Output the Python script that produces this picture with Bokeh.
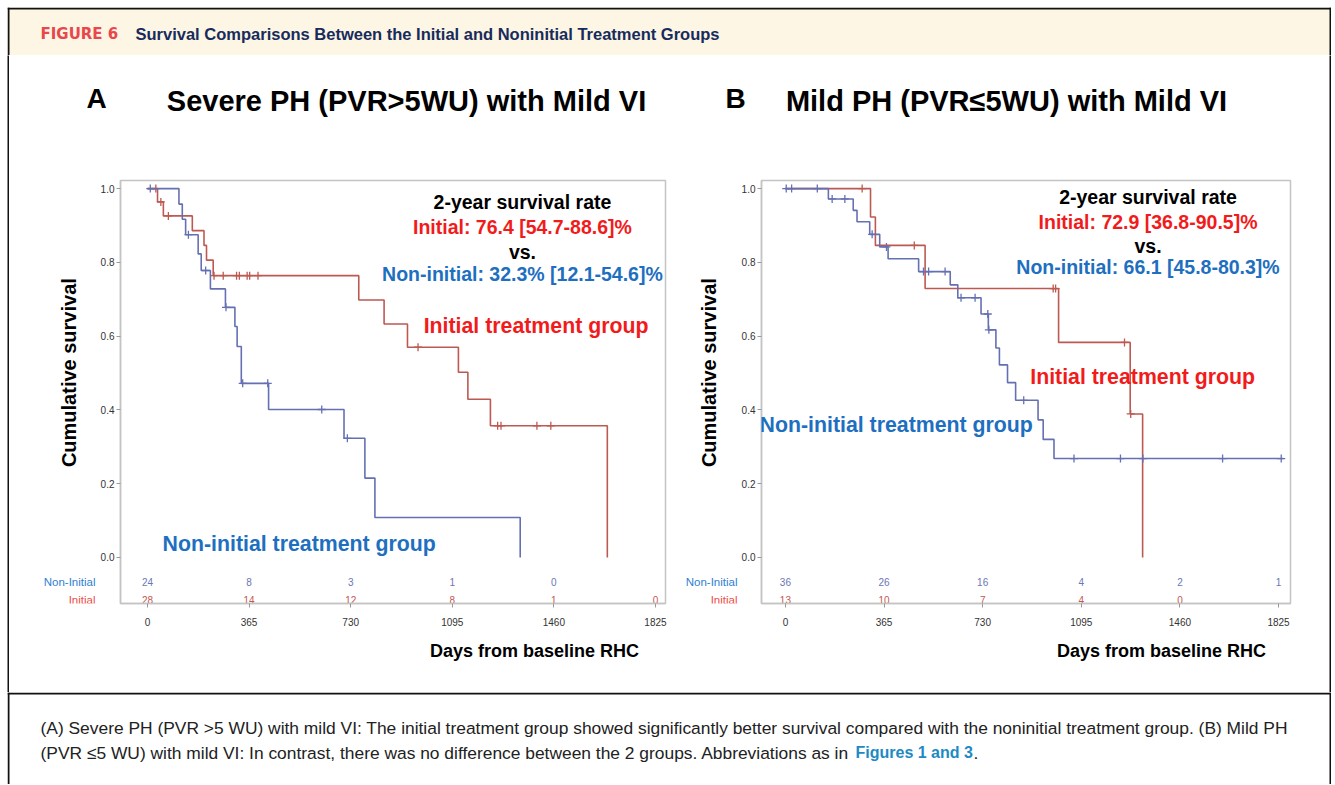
import math
from bokeh.plotting import figure
from bokeh.models import Range1d, FixedTicker, PrintfTickFormatter, Label, Span, ColumnDataSource, Spacer
from bokeh.layouts import column, row
from bokeh.embed import file_html
from bokeh.resources import INLINE
from bokeh.core.properties import value

FONT = "Liberation Sans"

# ---------------- data ----------------
risk_days = [0, 365, 730, 1095, 1460, 1825]
x_ticks = [0, 365, 730, 1095, 1460, 1825]
y_ticks = [0.0, 0.2, 0.4, 0.6, 0.8, 1.0]

# Panel A : Severe PH with mild VI
a_non_t = [0, 113, 125, 137, 182, 193, 226, 280, 314, 322, 337, 435, 706, 781, 817, 1339]
a_non_s = [1.0, 0.958, 0.917, 0.875, 0.823, 0.778, 0.728, 0.678, 0.626, 0.572, 0.472, 0.401, 0.323, 0.215, 0.108, 0.0]
a_non_ct = [10, 147, 209, 282, 342, 432, 626, 718]
a_non_cs = [1.0, 0.875, 0.778, 0.678, 0.472, 0.472, 0.401, 0.323]

a_ini_t = [0, 36, 57, 161, 203, 212, 236, 759, 850, 934, 1117, 1151, 1232, 1652]
a_ini_s = [1.0, 0.964, 0.926, 0.886, 0.846, 0.806, 0.764, 0.698, 0.633, 0.570, 0.502, 0.429, 0.357, 0.0]
a_ini_ct = [30, 48, 75, 239, 272, 320, 330, 358, 367, 397, 972, 1258, 1270, 1399, 1449]
a_ini_cs = [1.0, 0.964, 0.926, 0.764, 0.764, 0.764, 0.764, 0.764, 0.764, 0.764, 0.570, 0.357, 0.357, 0.357, 0.357]

a_risk_non = ["24", "8", "3", "1", "0"]
a_risk_ini = ["28", "14", "12", "8", "1", "0"]

# Panel B : Mild PH with mild VI
b_non_t = [0, 159, 251, 265, 312, 349, 380, 493, 610, 638, 724, 751, 779, 792, 822, 852, 935, 954, 994, 1843]
b_non_s = [1.0, 0.972, 0.941, 0.910, 0.876, 0.842, 0.810, 0.775, 0.739, 0.704, 0.660, 0.617, 0.568, 0.522, 0.474, 0.426, 0.373, 0.320, 0.268, 0.268]
b_non_ct = [3, 23, 118, 173, 220, 321, 374, 511, 530, 591, 650, 702, 749, 753, 882, 1068, 1240, 1323, 1618, 1835]
b_non_cs = [1.0, 1.0, 1.0, 0.972, 0.972, 0.876, 0.842, 0.775, 0.775, 0.775, 0.704, 0.704, 0.660, 0.617, 0.426, 0.268, 0.268, 0.268, 0.268, 0.268]

b_ini_t = [0, 315, 333, 517, 1011, 1276, 1322]
b_ini_s = [1.0, 0.923, 0.846, 0.729, 0.583, 0.389, 0.0]
b_ini_ct = [284, 477, 991, 1000, 1255, 1278]
b_ini_cs = [1.0, 0.846, 0.729, 0.729, 0.583, 0.389]

b_risk_non = ["36", "26", "16", "4", "2", "1"]
b_risk_ini = ["13", "10", "7", "4", "0"]

# ---------------- styles ----------------
RED_LINE = "#BC5A52"
BLUE_LINE = "#6570B2"
RED_TXT = "#F21B1B"
BLUE_TXT = "#1E6FC0"
RISK_RED = "#C4574F"
RISK_BLUE = "#6B76B6"
LAB_BLUE = "#2F80D2"
LAB_RED = "#EE4A44"
FRAME = "#C4C4C4"
BORDER = "#111111"

TOTAL_W = 1324
HDR_H = 48
TOP_H = 123
MID_H = 462
BOT_H = 52
BODY_H = TOP_H + MID_H + BOT_H
CAP_H = 92
FR_TOP = 2
FR_H = 423
FR_BOT = MID_H - FR_TOP - FR_H
Y_RANGE = (-0.125, 1.022)
ROW_NON = -0.067
ROW_INI = -0.115


def add_label(p, x, y, text, size, color="#000000", bold=True, align="center", angle=0.0, font=FONT):
    p.add_layout(Label(x=x, y=y, text=text, text_font=font, text_font_size=size,
                       text_font_style="bold" if bold else "normal", text_color=color,
                       text_align=align, text_baseline="middle", angle=angle))


def strip(w, h, bg="white", yr=None, mb_top=0, mb_bottom=0):
    f = figure(width=w, height=h, x_range=(0, w), y_range=yr if yr is not None else (0, h),
               min_border_left=0, min_border_right=0, min_border_top=mb_top, min_border_bottom=mb_bottom,
               toolbar_location=None, output_backend="svg",
               x_axis_location=None, y_axis_location=None, title=None)
    f.grid.visible = False
    f.outline_line_color = None
    f.background_fill_color = bg
    f.border_fill_color = bg
    return f


def km_plot(width, mb_right, xr, curves, risk_non, risk_ini, texts):
    p = figure(width=width, height=MID_H, x_range=Range1d(*xr), y_range=Range1d(*Y_RANGE),
               min_border_left=21, min_border_right=mb_right, min_border_top=FR_TOP, min_border_bottom=FR_BOT,
               toolbar_location=None, output_backend="svg", title=None)
    p.grid.visible = False
    p.outline_line_color = FRAME
    p.outline_line_width = 1.5
    p.background_fill_color = "white"
    p.border_fill_color = "white"

    for ax in (p.xaxis[0], p.yaxis[0]):
        ax.axis_line_color = FRAME
        ax.axis_line_width = 1.5
        ax.major_tick_line_color = "#9A9A9A"
        ax.major_tick_out = 4
        ax.major_tick_in = 0
        ax.minor_tick_line_color = None
        ax.major_label_text_font = FONT
        ax.major_label_text_font_size = "10px"
        ax.major_label_text_color = "#333333"
    p.xaxis.ticker = FixedTicker(ticks=x_ticks)
    p.yaxis.ticker = FixedTicker(ticks=y_ticks)
    p.yaxis.formatter = PrintfTickFormatter(format="%.1f")
    p.xaxis.major_label_standoff = 10
    p.yaxis.major_label_standoff = 2

    for t, s, ct, cs, col in curves:
        p.step(x=t, y=s, mode="after", line_color=col, line_width=1.6)
        p.scatter(x=ct, y=cs, marker="cross", size=8, line_color=col, line_width=1.3)

    src_n = ColumnDataSource(dict(x=risk_days[:len(risk_non)], y=[ROW_NON] * len(risk_non), t=risk_non))
    src_i = ColumnDataSource(dict(x=risk_days[:len(risk_ini)], y=[ROW_INI] * len(risk_ini), t=risk_ini))
    p.text(x="x", y="y", text="t", source=src_n, text_color=RISK_BLUE, text_font=value(FONT),
           text_font_size="10px", text_align="center", text_baseline="middle")
    p.text(x="x", y="y", text="t", source=src_i, text_color=RISK_RED, text_font=value(FONT),
           text_font_size="10px", text_align="center", text_baseline="middle")

    for args, kw in texts:
        add_label(p, *args, **kw)
    return p


def panel(width, left_w, mb_right, xr, curves, risk_non, risk_ini, texts,
          letter, letter_x, title, title_x, ylab_x, risk_x, xlab_x):
    top = strip(width, TOP_H)
    add_label(top, letter_x, 80, letter, "28px")
    add_label(top, title_x, 78, title, "29px")

    left = strip(left_w, MID_H, yr=Y_RANGE, mb_top=FR_TOP, mb_bottom=FR_BOT)
    add_label(left, ylab_x, 0.501, "Cumulative survival", "20px", angle=math.pi / 2)
    add_label(left, risk_x, ROW_NON, "Non-Initial", "11.5px", color=LAB_BLUE, bold=False, align="right")
    add_label(left, risk_x, ROW_INI, "Initial", "11.5px", color=LAB_RED, bold=False, align="right")

    km = km_plot(width - left_w, mb_right, xr, curves, risk_non, risk_ini, texts)

    bot = strip(width, BOT_H)
    add_label(bot, xlab_x, 42, "Days from baseline RHC", "18px")
    return column(top, row(left, km, spacing=0), bot, spacing=0)


panelA = panel(
    671, 88, 15, (-97, 1861),
    [(a_ini_t, a_ini_s, a_ini_ct, a_ini_cs, RED_LINE),
     (a_non_t, a_non_s, a_non_ct, a_non_cs, BLUE_LINE)],
    a_risk_non, a_risk_ini,
    [((1347, 0.963, "2-year survival rate", "19.5px"), {}),
     ((1347, 0.895, "Initial: 76.4 [54.7-88.6]%", "19.5px"), dict(color=RED_TXT)),
     ((1347, 0.829, "vs.", "19.5px"), {}),
     ((1347, 0.769, "Non-initial: 32.3% [12.1-54.6]%", "19.5px"), dict(color=BLUE_TXT)),
     ((1396, 0.627, "Initial treatment group", "21.3px"), dict(color=RED_TXT)),
     ((545, 0.037, "Non-initial treatment group", "21.3px"), dict(color=BLUE_TXT))],
    "A", 87, "Severe PH (PVR>5WU) with Mild VI", 397, 59, 86, 525,
)

panelB = panel(
    649, 58, 39, (-88.5, 1869.3),
    [(b_ini_t, b_ini_s, b_ini_ct, b_ini_cs, RED_LINE),
     (b_non_t, b_non_s, b_non_ct, b_non_cs, BLUE_LINE)],
    b_risk_non, b_risk_ini,
    [((1342, 0.978, "2-year survival rate", "19.5px"), {}),
     ((1342, 0.910, "Initial: 72.9 [36.8-90.5]%", "19.5px"), dict(color=RED_TXT)),
     ((1342, 0.845, "vs.", "19.5px"), {}),
     ((1342, 0.788, "Non-initial: 66.1 [45.8-80.3]%", "19.5px"), dict(color=BLUE_TXT)),
     ((1322, 0.490, "Initial treatment group", "21.3px"), dict(color=RED_TXT)),
     ((410, 0.359, "Non-initial treatment group", "21.3px"), dict(color=BLUE_TXT))],
    "B", 55, "Mild PH (PVR\u22645WU) with Mild VI", 326, 28, 57, 481,
)


def bar(h):
    return strip(2, h, bg=BORDER)


hdr = strip(TOTAL_W, HDR_H, bg="#FDF6E4")
for loc, dim in ((1, "height"), (TOTAL_W - 1, "height"), (HDR_H - 1, "width")):
    hdr.add_layout(Span(location=loc, dimension=dim, line_color=BORDER, line_width=2))
add_label(hdr, 33, 22, "FIGURE 6", "15px", color="#E8474C", align="left", font="DejaVu Sans")
add_label(hdr, 128, 22, "Survival Comparisons Between the Initial and Noninitial Treatment Groups", "16.5px",
          color="#172B5C", align="left")

cap = strip(TOTAL_W, CAP_H)
for loc, dim in ((1, "height"), (TOTAL_W - 1, "height"), (CAP_H - 1, "width")):
    cap.add_layout(Span(location=loc, dimension=dim, line_color=BORDER, line_width=2))
add_label(cap, 33, 57, "(A) Severe PH (PVR >5 WU) with mild VI: The initial treatment group showed significantly "
          "better survival compared with the noninitial treatment group. (B) Mild PH", "17.4px",
          color="#222222", bold=False, align="left")
add_label(cap, 33, 32, "(PVR \u22645 WU) with mild VI: In contrast, there was no difference between the 2 groups. "
          "Abbreviations as in", "17.4px", color="#222222", bold=False, align="left")
add_label(cap, 848, 32, "Figures 1 and 3", "16px", color="#1D8AC4", bold=True, align="left")
add_label(cap, 966, 32, ".", "17.4px", color="#222222", bold=False, align="left")

body = row(bar(BODY_H), panelA, panelB, bar(BODY_H), spacing=0)
inner = column(hdr, body, cap, spacing=0)
page = column(Spacer(width=1, height=7), row(Spacer(width=7, height=1), inner, spacing=0), spacing=0)

open("out.html", "w").write(file_html(page, INLINE))
